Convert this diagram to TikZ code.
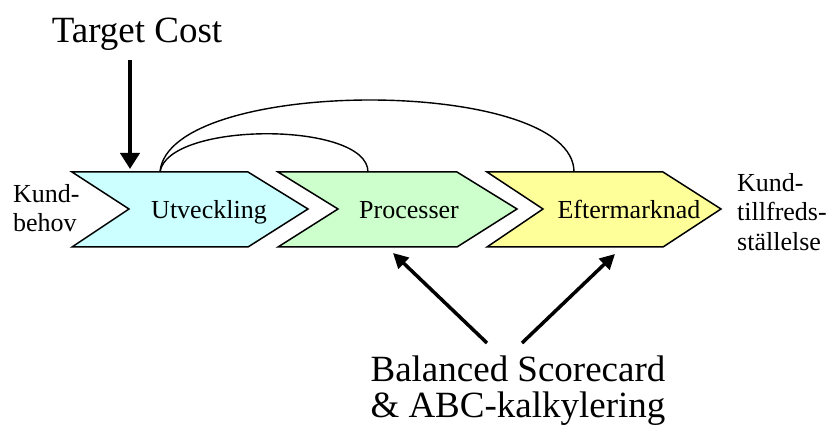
\documentclass[tikz,border=0pt]{standalone}
\usepackage{fontspec}
\setmainfont{LiberationSerif}[Extension=.ttf,UprightFont=*-Regular]
\usetikzlibrary{arrows.meta}
\definecolor{utvfill}{HTML}{CCFFFF}
\definecolor{procfill}{HTML}{CCFFCC}
\definecolor{eftfill}{HTML}{FFFF99}
\begin{document}
\begin{tikzpicture}[x=1pt,y=-1pt,
  chev/.style={draw=black,line width=1.5pt,line join=miter},
  steplabel/.style={font=\fontsize{26}{30}\selectfont,inner sep=0pt,anchor=base},
  sidelabel/.style={font=\fontsize{26}{29.5}\selectfont,inner sep=0pt,align=left},
  biglabel/.style={font=\fontsize{37}{37}\selectfont,inner sep=0pt},
  link/.style={draw=black,line width=1.4pt},
  pusharrow/.style={draw=black,line width=4pt,-{Triangle[length=16pt,width=19pt]}},
  drivearrow/.style={draw=black,line width=3.5pt,-{Triangle[length=15pt,width=15pt]}}]
\useasboundingbox (0,0) rectangle (828,430);

% value chain: three chevrons
\draw[chev,fill=utvfill]  (72,172)  -- (248,172) -- (308,209) -- (248,247) -- (72,247)  -- (129,209) -- cycle;
\draw[chev,fill=procfill] (278,172) -- (457,172) -- (517,209) -- (457,247) -- (278,247) -- (338,209) -- cycle;
\draw[chev,fill=eftfill]  (487,172) -- (663,172) -- (721,209) -- (663,247) -- (487,247) -- (543,209) -- cycle;

\node[steplabel] (utv)  at (209,219) {Utveckling};
\node[steplabel] (proc) at (409,219) {Processer};
\node[steplabel] (eft)  at (629,219) {Eftermarknad};

% customer need in, customer satisfaction out
\node[sidelabel,anchor=north west] (need) at (13,184) {Kund-\\behov};
\node[sidelabel,anchor=north west] (sat)  at (737,173) {Kund-\\tillfreds-\\ställelse};

% feedback links from development to the later steps
\coordinate (utvtop)  at (160,172);
\coordinate (proctop) at (368,172);
\coordinate (efttop)  at (574,172);
\draw[link] (utvtop) .. controls (168,121) and (368,121) .. (proctop);
\draw[link] (utvtop) .. controls (168,76) and (574,76) .. (efttop);

% target cost
\node[biglabel,anchor=base] (tc) at (137,43) {Target Cost};
\coordinate (tcfrom) at (130,60);
\coordinate (tcto)   at (130,169);
\draw[pusharrow] (tcfrom) -- (tcto);

% balanced scorecard and ABC costing
\node[biglabel,align=center,anchor=north] (bsc) at (518,356) {Balanced Scorecard\\[-1pt]\& ABC-kalkylering};
\coordinate (bscl) at (487,343);
\coordinate (bscr) at (522,343);
\coordinate (procbot) at (393,253);
\coordinate (eftbot)  at (615,254);
\draw[drivearrow] (bscl) -- (procbot);
\draw[drivearrow] (bscr) -- (eftbot);
\end{tikzpicture}
\end{document}
